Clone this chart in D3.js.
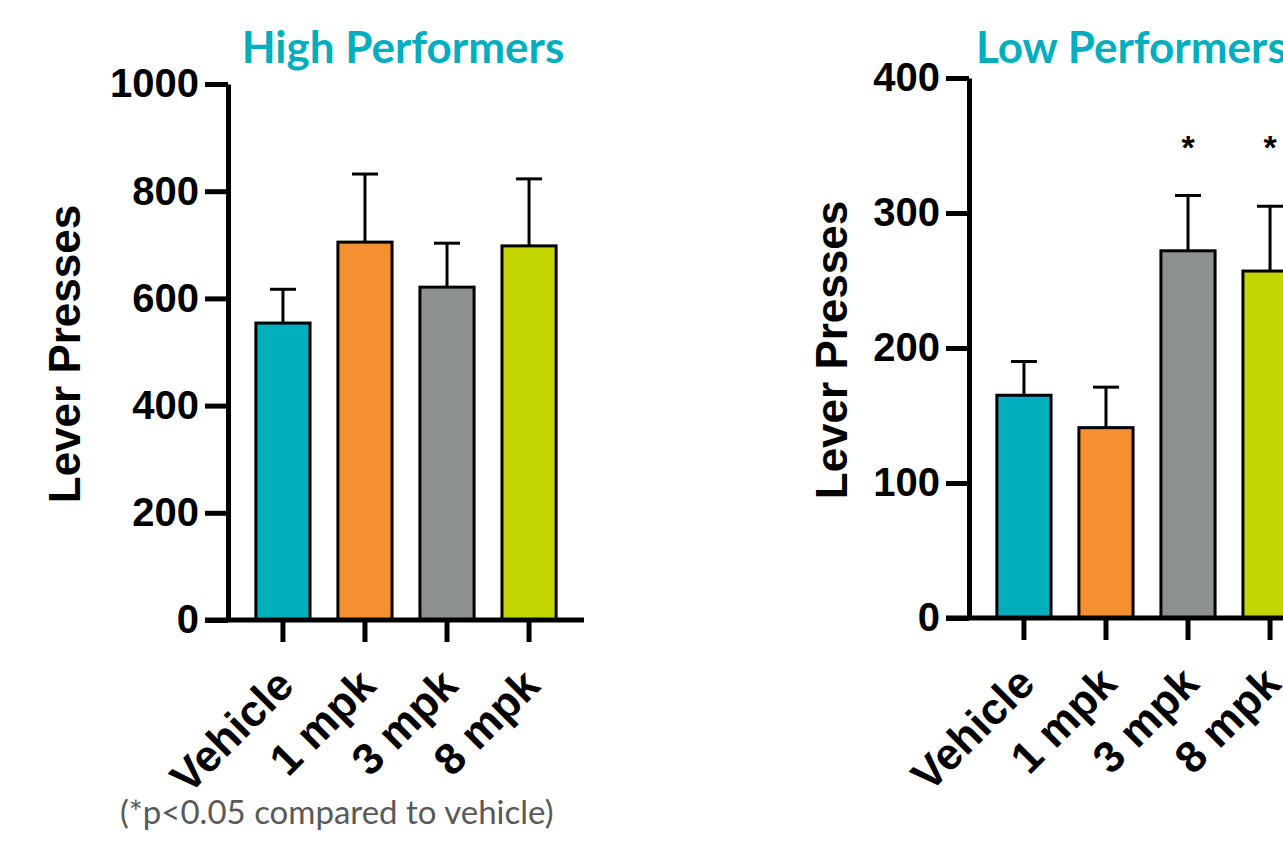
<!DOCTYPE html>
<html>
<head>
<meta charset="utf-8">
<script src="https://cdn.jsdelivr.net/npm/d3@7"></script>
<style>
  body { margin: 0; background: #fff; }
  svg { display: block; }
</style>
</head>
<body>
<svg width="1283" height="844"></svg>
<script>
// data
const categories = ["Vehicle", "1 mpk", "3 mpk", "8 mpk"];
const barColors = ["#00AEBC", "#F68F30", "#8C9090", "#C4D600"];

const highMeans = [554, 705, 621, 698];
const highSem = [63, 127, 82, 125];
const highTicks = [0, 200, 400, 600, 800, 1000];

const lowMeans = [165, 141, 272, 257];
const lowSem = [25, 30, 41, 48];
const lowTicks = [0, 100, 200, 300, 400];
const lowSig = ["", "", "*", "*"];
const sigLevel = 350;

const arial = "'Liberation Sans', Arial, sans-serif";
const calibri = "Lato, 'Open Sans', sans-serif";

const svg = d3.select("svg");
svg.append("rect").attr("width", 1283).attr("height", 844).attr("fill", "#fff");

function panel(o) {
  const y = d3.scaleLinear().domain([0, o.max]).range([o.y0, o.y1]);
  const x = d3.scaleBand().domain(categories).range([o.ax, o.ax + 356]).padding(0.34);
  const g = svg.append("g");

  // bars
  g.selectAll("rect.bar")
    .data(o.means)
    .join("rect")
    .attr("class", "bar")
    .attr("x", (d, i) => x(categories[i]))
    .attr("y", d => y(d))
    .attr("width", x.bandwidth())
    .attr("height", d => o.y0 - y(d))
    .attr("fill", (d, i) => barColors[i])
    .attr("stroke", "#000")
    .attr("stroke-width", 3);

  // error bars (upper only)
  const cx = i => x(categories[i]) + x.bandwidth() / 2;
  g.selectAll("line.err")
    .data(o.means)
    .join("line")
    .attr("class", "err")
    .attr("x1", (d, i) => cx(i)).attr("x2", (d, i) => cx(i))
    .attr("y1", d => y(d)).attr("y2", (d, i) => y(d + o.sem[i]))
    .attr("stroke", "#000").attr("stroke-width", 3);
  g.selectAll("line.cap")
    .data(o.means)
    .join("line")
    .attr("class", "cap")
    .attr("x1", (d, i) => cx(i) - 13).attr("x2", (d, i) => cx(i) + 13)
    .attr("y1", (d, i) => y(d + o.sem[i])).attr("y2", (d, i) => y(d + o.sem[i]))
    .attr("stroke", "#000").attr("stroke-width", 3);

  if (o.sig) {
    g.selectAll("text.sig")
      .data(o.sig)
      .join("text")
      .attr("class", "sig")
      .attr("x", (d, i) => cx(i))
      .attr("y", y(sigLevel) + 13)
      .attr("text-anchor", "middle")
      .attr("font-family", arial)
      .attr("font-weight", "bold")
      .attr("font-size", 34)
      .text(d => d);
  }

  // y axis
  const ya = g.append("g")
    .attr("transform", `translate(${o.ax},0)`)
    .call(d3.axisLeft(y).tickValues(o.ticks).tickFormat(d3.format("d"))
      .tickSize(23).tickSizeOuter(0).tickPadding(6));
  ya.attr("font-family", arial).attr("font-size", 40).attr("font-weight", "bold");
  ya.select(".domain").attr("stroke-width", 5);
  ya.selectAll(".tick line").attr("stroke-width", 5);
  ya.selectAll(".tick text").attr("fill", "#000");

  // x axis
  const xa = g.append("g")
    .attr("transform", `translate(0,${o.y0})`)
    .call(d3.axisBottom(x).tickSize(22).tickSizeOuter(0));
  xa.select(".domain").remove();
  xa.selectAll(".tick line").attr("stroke-width", 5);
  xa.attr("font-family", arial).attr("font-size", 44).attr("font-weight", "bold");
  xa.selectAll(".tick text")
    .attr("fill", "#000")
    .attr("x", 0).attr("y", 0).attr("dy", 0)
    .attr("text-anchor", "end")
    .attr("transform", "translate(13,68) rotate(-45)");
  g.append("line")
    .attr("x1", o.ax - 23).attr("x2", o.ax + 356)
    .attr("y1", o.y0).attr("y2", o.y0)
    .attr("stroke", "#000").attr("stroke-width", 5);

  // axis title
  g.append("text")
    .attr("transform", `translate(${o.labelX},${(o.y0 + o.y1) / 2 + 2}) rotate(-90)`)
    .attr("text-anchor", "middle")
    .attr("font-family", arial)
    .attr("font-weight", "bold")
    .attr("font-size", 44)
    .text("Lever Presses");

  // panel title
  g.append("text")
    .attr("x", o.titleX).attr("y", 63)
    .attr("text-anchor", o.titleAnchor)
    .attr("font-family", calibri)
    .attr("font-weight", "bold")
    .attr("font-size", 44)
    .attr("fill", "#00AEBD")
    .text(o.title);
}

panel({ title: "High Performers", titleX: 403, titleAnchor: "middle",
  means: highMeans, sem: highSem, ticks: highTicks, max: 1000,
  ax: 228, y0: 620, y1: 84, labelX: 80 });

panel({ title: "Low Performers", titleX: 976, titleAnchor: "start",
  means: lowMeans, sem: lowSem, ticks: lowTicks, max: 400, sig: lowSig,
  ax: 969, y0: 618, y1: 78, labelX: 847 });

svg.append("text")
  .attr("x", 120).attr("y", 824)
  .attr("text-anchor", "start")
  .attr("font-family", calibri)
  .attr("font-size", 33)
  .attr("fill", "#595959")
  .text("(*p<0.05 compared to vehicle)");
</script>
</body>
</html>
